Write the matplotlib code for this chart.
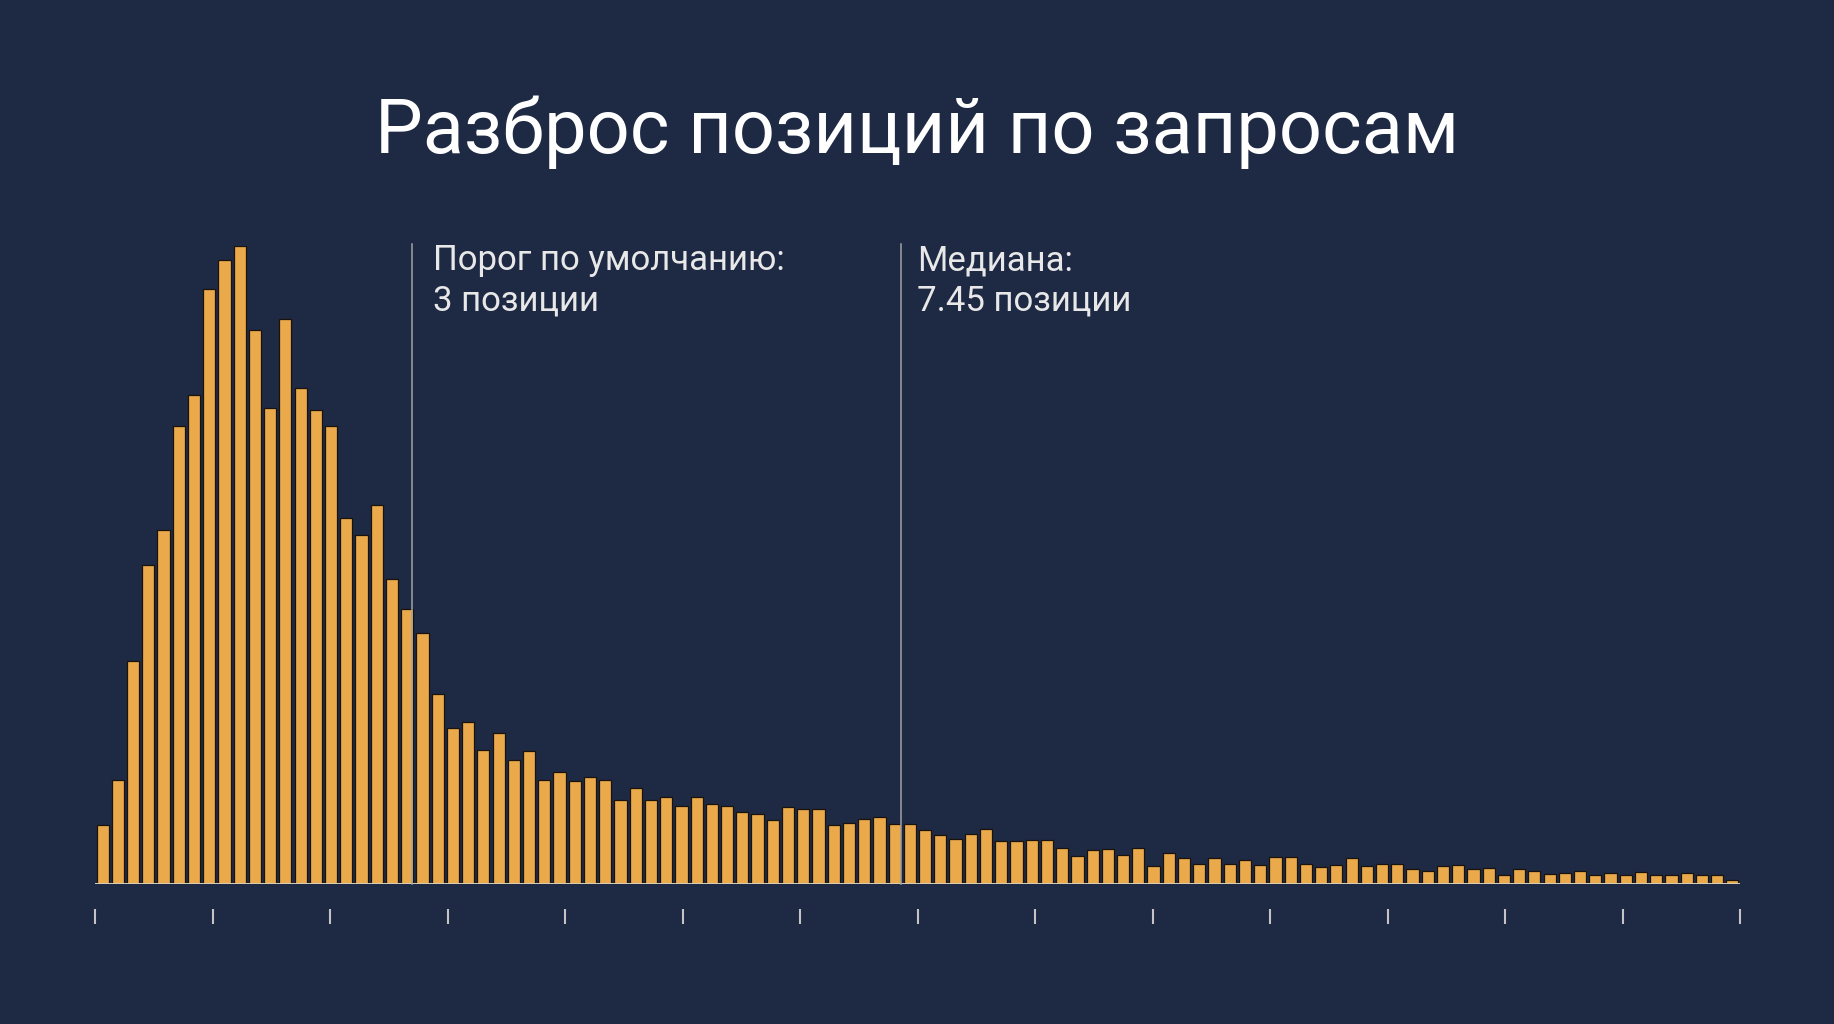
import numpy as np
import matplotlib
matplotlib.use("Agg")
import matplotlib.pyplot as plt
from matplotlib import transforms

# ---- data ----
title = "Разброс позиций по запросам"
bin_counts = [93, 163, 350, 500, 555, 717, 766, 932, 978, 1000,
              868, 745, 885, 777, 743, 717, 573, 546, 594, 477,
              430, 393, 297, 244, 254, 210, 237, 194, 209, 163,
              176, 161, 168, 163, 131, 151, 132, 137, 122, 137,
              125, 122, 113, 110, 101, 121, 117, 117, 93, 96,
              102, 105, 94, 94, 84, 77, 70, 79, 86, 67,
              67, 69, 69, 57, 44, 54, 55, 45, 56, 28,
              48, 41, 32, 41, 31, 37, 30, 42, 43, 31,
              27, 30, 40, 28, 31, 31, 23, 21, 28, 30,
              23, 25, 14, 23, 21, 15, 17, 21, 14, 17,
              14, 19, 14, 14, 18, 14, 14, 7]
x_min, x_max = 0, 14
tick_values = list(range(0, 15))
marker_positions = [2.70, 6.86]
marker_labels = [["Порог по умолчанию:", "3 позиции"],
                 ["Медиана:", "7.45 позиции"]]

# ---- style ----
BG = "#1e2944"
BAR = "#eaa94a"
W, H = 1834, 1024
DPI = 100
label_offsets_px = [21, 16]

plt.rcParams['font.family'] = ['Roboto', 'DejaVu Sans']

fig = plt.figure(figsize=(W / DPI, H / DPI), dpi=DPI, facecolor=BG)

# axes in pixel geometry
ax_left, ax_right = 95, 1740
ax_base, ax_top = 884, 245.6
ax = fig.add_axes([ax_left / W, 1 - ax_base / H,
                   (ax_right - ax_left) / W, (ax_base - ax_top) / H])
ax.set_facecolor(BG)

n = len(bin_counts)
edges = np.linspace(x_min, x_max, n + 1)
bw = edges[1] - edges[0]
centers = edges[:-1] + bw / 2
ax.bar(centers, bin_counts, width=bw * 0.80, color=BAR,
       edgecolor="#1a130b", linewidth=0.9, zorder=2)

ax.set_xlim(x_min, x_max)
ax.set_ylim(0, max(bin_counts))

# baseline
ax.axhline(0, color="#d9cfb5", linewidth=1.4, zorder=3)

# markers
for pos in marker_positions:
    ax.axvline(pos, ymin=0, ymax=1.003, color="#a3a3a3", linewidth=1.1,
               zorder=4, clip_on=False)

for pos, lines, dx in zip(marker_positions, marker_labels, label_offsets_px):
    trans = transforms.blended_transform_factory(ax.transData, fig.transFigure)
    off = transforms.offset_copy(trans, fig=fig, x=dx, y=0, units='dots')
    ax.text(pos, 1 - 270 / H, lines[0], transform=off, color="#e8e8e8",
            fontsize=25, ha="left", va="baseline")
    ax.text(pos, 1 - 310 / H, lines[1], transform=off, color="#e8e8e8",
            fontsize=25, ha="left", va="baseline")

# ticks below, detached from axis
for s in ["top", "right", "left"]:
    ax.spines[s].set_visible(False)
ax.spines["bottom"].set_position(("outward", 25 * 72 / DPI))
ax.spines["bottom"].set_color("none")
ax.set_xticks(tick_values)
ax.set_xticklabels([])
ax.tick_params(axis="x", direction="out", length=15 * 72 / DPI,
               width=1.5, color="#c4c4c4")
ax.set_yticks([])

fig.text(0.5, 1 - 153 / H, title, color="white", fontsize=54.5,
         ha="center", va="baseline")

fig.savefig("out.png", dpi=DPI, facecolor=BG)
